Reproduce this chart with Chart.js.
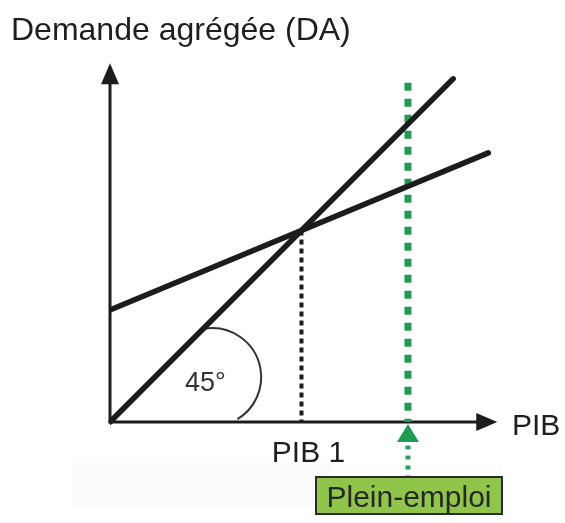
<!DOCTYPE html>
<html>
<head>
<meta charset="utf-8">
<script src="https://cdn.jsdelivr.net/npm/chart.js@4"></script>
<style>
  body { margin: 0; background: #fff; }
  #wrap { width: 565px; height: 523px; position: relative; }
</style>
</head>
<body>
<div id="wrap"><canvas id="chart"></canvas></div>
<script>
// values in chart units (0..100 on both axes, same pixel scale)
const titleText = 'Demande agrégée (DA)';
const xAxisLabel = 'PIB';
const guideLabels = ['PIB 1', 'Plein-emploi'];
const diagX = [0, 88];          // 45° line
const diagY = [0, 88];
const daX = [0, 97];            // aggregate demand
const daY = [28.7, 69];
const pib1 = 49.1;              // equilibrium output
const pleinEmploi = 76.4;       // full employment output
const pleinTop = 87;
const axisTop = 92;
const axisRight = 99.3;

function pts(xs, ys) {
    return xs.map((x, i) => ({ x: x, y: ys[i] }));
}

const lineStyle = { showLine: true, pointRadius: 0, fill: false, tension: 0 };

// custom drawing: axes, arrows, arc, labels
const diagramPlugin = {
    id: 'diagram',
    beforeDatasetsDraw(chart) {
        const ctx = chart.ctx;
        const xs = chart.scales.x, ys = chart.scales.y;
        const X = v => xs.getPixelForValue(v), Y = v => ys.getPixelForValue(v);
        ctx.save();
        // faint box under PIB 1
        ctx.fillStyle = '#fbfbfb';
        ctx.fillRect(72, 463, 261, 46);

        ctx.strokeStyle = '#1c1c1c';
        ctx.fillStyle = '#1c1c1c';
        ctx.lineWidth = 3;
        ctx.lineCap = 'butt';
        // y axis
        ctx.beginPath();
        ctx.moveTo(X(0), Y(0) + 1.5);
        ctx.lineTo(X(0), Y(axisTop) + 15);
        ctx.stroke();
        ctx.beginPath();
        ctx.moveTo(X(0), Y(axisTop));
        ctx.lineTo(X(0) - 9, Y(axisTop) + 21);
        ctx.lineTo(X(0) + 9, Y(axisTop) + 21);
        ctx.closePath();
        ctx.fill();
        // x axis
        ctx.beginPath();
        ctx.moveTo(X(0) - 1.5, Y(0));
        ctx.lineTo(X(axisRight) - 15, Y(0));
        ctx.stroke();
        ctx.beginPath();
        ctx.moveTo(X(axisRight), Y(0));
        ctx.lineTo(X(axisRight) - 21, Y(0) - 9);
        ctx.lineTo(X(axisRight) - 21, Y(0) + 9);
        ctx.closePath();
        ctx.fill();

        // 45° arc
        ctx.lineWidth = 2;
        ctx.strokeStyle = '#333';
        ctx.beginPath();
        ctx.arc(X(26.2), Y(11.5), 49, -100 * Math.PI / 180, 59 * Math.PI / 180);
        ctx.stroke();

        // green arrow head below the axis
        ctx.fillStyle = '#1f9b54';
        ctx.beginPath();
        ctx.moveTo(X(pleinEmploi), Y(0) + 2);
        ctx.lineTo(X(pleinEmploi) - 11, Y(0) + 20);
        ctx.lineTo(X(pleinEmploi) + 11, Y(0) + 20);
        ctx.closePath();
        ctx.fill();
        ctx.restore();
    },
    afterDraw(chart) {
        const ctx = chart.ctx;
        const xs = chart.scales.x, ys = chart.scales.y;
        const X = v => xs.getPixelForValue(v), Y = v => ys.getPixelForValue(v);
        ctx.save();
        ctx.textBaseline = 'alphabetic';
        ctx.fillStyle = '#1e1e1e';
        ctx.font = '32px "Liberation Sans", Arial, sans-serif';
        ctx.textAlign = 'left';
        ctx.fillText(titleText, 11, 40);

        ctx.font = '30px "Liberation Sans", Arial, sans-serif';
        ctx.fillText(xAxisLabel, 512, 435);
        ctx.textAlign = 'center';
        ctx.fillText(guideLabels[0], X(pib1) + 7, 462);

        ctx.font = '27px "Liberation Sans", Arial, sans-serif';
        ctx.fillStyle = '#333';
        ctx.textAlign = 'left';
        ctx.fillText('45°', 185, 391);

        // Plein-emploi box
        const bx = 316, by = 477, bw = 186, bh = 37;
        ctx.fillStyle = '#8fc64a';
        ctx.fillRect(bx, by, bw, bh);
        ctx.strokeStyle = '#2b2b2b';
        ctx.lineWidth = 2;
        ctx.strokeRect(bx, by, bw, bh);
        ctx.fillStyle = '#262626';
        ctx.font = '30px "Liberation Sans", Arial, sans-serif';
        ctx.textAlign = 'center';
        ctx.fillText(guideLabels[1], bx + bw / 2, by + 30);
        ctx.restore();
    }
};

new Chart(document.getElementById('chart'), {
    type: 'scatter',
    data: {
        datasets: [
            Object.assign({ label: '45°', data: pts(diagX, diagY),
                borderColor: '#1c1c1c', borderWidth: 5.5, borderCapStyle: 'round' }, lineStyle),
            Object.assign({ label: 'DA', data: pts(daX, daY),
                borderColor: '#1c1c1c', borderWidth: 5.5, borderCapStyle: 'round' }, lineStyle),
            Object.assign({ label: guideLabels[0], data: pts([pib1, pib1], [pib1, 0]),
                borderColor: '#1c1c1c', borderWidth: 4, borderDash: [5, 4] }, lineStyle),
            Object.assign({ label: guideLabels[1], data: pts([pleinEmploi, pleinEmploi], [pleinTop, 0]),
                borderColor: '#1f9b54', borderWidth: 7, borderDash: [8, 8] }, lineStyle),
            Object.assign({ label: 'flèche', data: pts([pleinEmploi, pleinEmploi], [-6, -14.2]),
                borderColor: '#2aa060', borderWidth: 5, borderDash: [4, 6] }, lineStyle)
        ]
    },
    options: {
        responsive: true,
        maintainAspectRatio: false,
        animation: false,
        layout: { padding: { left: 110, right: 65, top: 32, bottom: 3.5 } },
        scales: {
            x: { type: 'linear', min: 0, max: 100, display: false },
            y: { type: 'linear', min: -25, max: 100, display: false }
        },
        plugins: {
            legend: { display: false },
            tooltip: { enabled: false }
        }
    },
    plugins: [diagramPlugin]
});
</script>
</body>
</html>
